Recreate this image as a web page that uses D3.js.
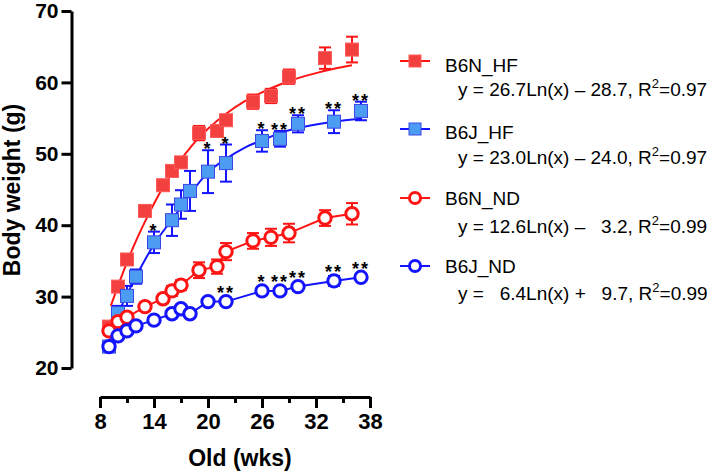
<!DOCTYPE html>
<html lang="en">
<head>
<meta charset="utf-8">
<title>Body weight</title>
<script src="https://cdn.jsdelivr.net/npm/d3@7"></script>
<style type="text/css">
body { margin: 0; background: #fff; }
text { font-family: Arial, "Liberation Sans", sans-serif; }
.axis path, .axis line { stroke: #000; stroke-width: 3; }
.axis text { font-weight: bold; font-size: 21px; fill: #000; }
.xaxis text { font-size: 22px; }
.legend text { font-size: 19px; fill: #000; white-space: pre; }
</style>
</head>
<body>
<script type="text/javascript">
var w = 723, h = 475;

// weeks (B6N and B6J were weighed on slightly different weeks)
var weeksN = [9, 10, 11, 13, 15, 16, 17, 19, 21, 22, 25, 27, 29, 33, 36];
var weeksJ = [9, 10, 11, 12, 14, 16, 17, 18, 20, 22, 26, 28, 30, 34, 37];

var b6nHF = [25.8, 31.4, 35.2, 42.0, 45.6, 47.6, 48.8, 52.9, 53.2, 54.7, 57.3, 58.1, 60.8, 63.4, 64.6];
var b6nHFerr = [0.4, 0.4, 0.4, 0.5, 0.5, 0.6, 0.6, 1.0, 0.8, 0.6, 1.0, 1.0, 1.0, 1.5, 1.8];
var b6jHF = [23.0, 27.7, 30.1, 32.8, 37.6, 40.7, 42.9, 44.8, 47.5, 48.7, 51.8, 52.1, 54.2, 54.5, 56.0];
var b6jHFerr = [0.4, 1.0, 1.4, 1.0, 1.5, 2.2, 2.0, 2.8, 3.0, 2.6, 1.5, 1.1, 1.2, 1.6, 1.3];
var b6nND = [25.2, 26.5, 27.1, 28.6, 29.7, 30.8, 31.6, 33.7, 34.2, 36.3, 37.8, 38.3, 38.9, 41.0, 41.6];
var b6nNDerr = [0.5, 0.5, 0.5, 0.6, 0.6, 0.7, 0.7, 1.1, 1.0, 1.2, 1.1, 1.2, 1.3, 1.1, 1.5];
var b6jND = [23.0, 24.5, 25.2, 25.9, 26.7, 27.6, 28.3, 27.6, 29.3, 29.3, 30.8, 30.8, 31.4, 32.2, 32.7];
var b6jNDerr = [0.3, 0.3, 0.3, 0.3, 0.3, 0.3, 0.3, 0.3, 0.4, 0.4, 0.5, 0.5, 0.5, 0.7, 0.5];

// significance marks (B6J vs B6N)
var starsHF = ["", "", "", "", "*", "", "", "", "*", "*", "*", "**", "**", "**", "**"];
var starsND = ["", "", "", "", "", "", "", "", "", "**", "*", "**", "**", "**", "**"];

// fitted curves for the HF groups
var fitN_x = [9.2, 10, 11, 12, 13, 14, 15, 16, 17, 18, 19, 20, 22, 24, 26, 28, 30, 32, 34, 36];
var fitN_y = [28.7, 31.5, 34.8, 37.8, 40.5, 43.0, 45.3, 47.3, 49.2, 50.8, 52.3, 53.5, 55.6, 57.3, 58.6, 59.7, 60.6, 61.3, 61.9, 62.4];
var fitJ_x = [9, 10, 11, 12, 14, 16, 17, 18, 20, 22, 24, 26, 28, 30, 32, 34, 37];
var fitJ_y = [23.5, 27.5, 30.3, 32.8, 37.3, 40.8, 42.5, 44.3, 47.4, 49.3, 50.8, 51.9, 52.9, 53.6, 54.1, 54.5, 54.9];

var xTicks = [8, 14, 20, 26, 32, 38];
var xMinor = [11, 17, 23, 29, 35];
var yTicks = [20, 30, 40, 50, 60, 70];

var legendNames = ["B6N_HF", "B6J_HF", "B6N_ND", "B6J_ND"];
var legendEq = [
  ["y = 26.7Ln(x) \u2013 28.7, R", "2", "=0.97"],
  ["y = 23.0Ln(x) \u2013 24.0, R", "2", "=0.97"],
  ["y = 12.6Ln(x) \u2013   3.2, R", "2", "=0.99"],
  ["y =   6.4Ln(x) +   9.7, R", "2", "=0.99"]
];

var red = "#ff1414", blue = "#1414ff";

var svg = d3.select("body").append("svg")
    .attr("width", w).attr("height", h);

var x = d3.scaleLinear().domain([8, 38]).range([100, 370]);
var y = d3.scaleLinear().domain([20, 70]).range([368, 11]);

// axes
svg.append("g").attr("class", "axis")
   .attr("transform", "translate(71.5,0)")
   .call(d3.axisLeft(y).tickValues(yTicks).tickSize(10).tickSizeOuter(0).tickPadding(3));

svg.append("g").attr("class", "axis xaxis")
   .attr("transform", "translate(0,397)")
   .call(d3.axisBottom(x).tickValues(xTicks).tickSize(11).tickSizeOuter(0).tickPadding(5));
svg.append("g").attr("class", "axis minor")
   .attr("transform", "translate(0,397)")
   .call(d3.axisBottom(x).tickValues(xMinor).tickSize(6).tickFormat(""))
   .select(".domain").remove();

svg.append("text")
   .attr("transform", "translate(20,190) rotate(-90)")
   .attr("text-anchor", "middle")
   .style("font-weight", "bold").style("font-size", "23px")
   .text("Body weight (g)");
svg.append("text")
   .attr("x", 240).attr("y", 466)
   .attr("text-anchor", "middle")
   .style("font-weight", "bold").style("font-size", "23px")
   .text("Old (wks)");

var line = d3.line().x(function(d){ return x(d[0]); }).y(function(d){ return y(d[1]); });

// lines
svg.append("path").datum(d3.zip(fitN_x, fitN_y))
   .attr("d", line.curve(d3.curveMonotoneX))
   .attr("fill", "none").attr("stroke", red).attr("stroke-width", 2);
svg.append("path").datum(d3.zip(fitJ_x, fitJ_y))
   .attr("d", line.curve(d3.curveMonotoneX))
   .attr("fill", "none").attr("stroke", blue).attr("stroke-width", 2);
svg.append("path").datum(d3.zip(weeksN, b6nND))
   .attr("d", line.curve(d3.curveLinear))
   .attr("fill", "none").attr("stroke", red).attr("stroke-width", 2);
svg.append("path").datum(d3.zip(weeksJ, b6jND))
   .attr("d", line.curve(d3.curveLinear))
   .attr("fill", "none").attr("stroke", blue).attr("stroke-width", 2);

function errorBars(weeks, vals, errs, color) {
  var g = svg.append("g").attr("stroke", color).attr("stroke-width", 2);
  weeks.forEach(function(wk, i) {
    var cx = x(wk), t = y(vals[i] + errs[i]), b = y(vals[i] - errs[i]);
    g.append("line").attr("x1", cx).attr("x2", cx).attr("y1", t).attr("y2", b);
    g.append("line").attr("x1", cx - 6).attr("x2", cx + 6).attr("y1", t).attr("y2", t);
    g.append("line").attr("x1", cx - 6).attr("x2", cx + 6).attr("y1", b).attr("y2", b);
  });
}
errorBars(weeksN, b6nHF, b6nHFerr, red);
errorBars(weeksJ, b6jHF, b6jHFerr, blue);
errorBars(weeksN, b6nND, b6nNDerr, red);
errorBars(weeksJ, b6jND, b6jNDerr, blue);

function squares(weeks, vals, fill, stroke) {
  svg.append("g").selectAll("rect").data(d3.zip(weeks, vals)).enter().append("rect")
     .attr("x", function(d){ return x(d[0]) - 6.5; })
     .attr("y", function(d){ return y(d[1]) - 6.5; })
     .attr("width", 13).attr("height", 13)
     .attr("fill", fill).attr("stroke", stroke).attr("stroke-width", 1);
}
function circles(weeks, vals, stroke) {
  svg.append("g").selectAll("circle").data(d3.zip(weeks, vals)).enter().append("circle")
     .attr("cx", function(d){ return x(d[0]); })
     .attr("cy", function(d){ return y(d[1]); })
     .attr("r", 6.2)
     .attr("fill", "#fff").attr("stroke", stroke).attr("stroke-width", 3);
}
squares(weeksN, b6nHF, "#f2403f", "#ff5a5a");
squares(weeksJ, b6jHF, "#4d9cf4", "#3a48e8");
circles(weeksN, b6nND, red);
circles(weeksJ, b6jND, blue);

function stars(weeks, vals, errs, marks) {
  svg.append("g").selectAll("text").data(marks).enter().append("text")
     .attr("x", function(d, i){ return x(weeks[i]); })
     .attr("y", function(d, i){ return Math.min(y(vals[i] + errs[i]), y(vals[i]) - 7.5) + 5; })
     .attr("text-anchor", "middle")
     .style("font-size", "18px").style("font-weight", "bold").style("letter-spacing", "2px")
     .text(function(d){ return d; });
}
stars(weeksJ, b6jHF, b6jHFerr, starsHF);
stars(weeksJ, b6jND, b6jNDerr, starsND);

// legend
var symY = [61, 129, 198, 266];
var nameY = [72, 139, 205, 273];
var eqY = [96, 164, 233, 300];
var lg = svg.append("g").attr("class", "legend");
legendNames.forEach(function(name, i) {
  var col = (i % 2 === 0) ? red : blue;
  lg.append("line").attr("x1", 400).attr("x2", 430).attr("y1", symY[i]).attr("y2", symY[i])
    .attr("stroke", col).attr("stroke-width", 2);
  if (i < 2) {
    lg.append("rect").attr("x", 409).attr("y", symY[i] - 6).attr("width", 12).attr("height", 12)
      .attr("fill", i === 0 ? "#f2403f" : "#4d9cf4").attr("stroke", i === 0 ? "#ff5a5a" : "#3a48e8");
  } else {
    lg.append("circle").attr("cx", 415).attr("cy", symY[i]).attr("r", 5.5)
      .attr("fill", "#fff").attr("stroke", col).attr("stroke-width", 3);
  }
  lg.append("text").attr("x", 445).attr("y", nameY[i]).text(name);
  var t = lg.append("text").attr("x", 458).attr("y", eqY[i]).attr("xml:space", "preserve");
  t.append("tspan").text(legendEq[i][0]);
  t.append("tspan").attr("dy", -8).style("font-size", "13px").text(legendEq[i][1]);
  t.append("tspan").attr("dy", 8).text(legendEq[i][2]);
});
</script>
</body>
</html>
